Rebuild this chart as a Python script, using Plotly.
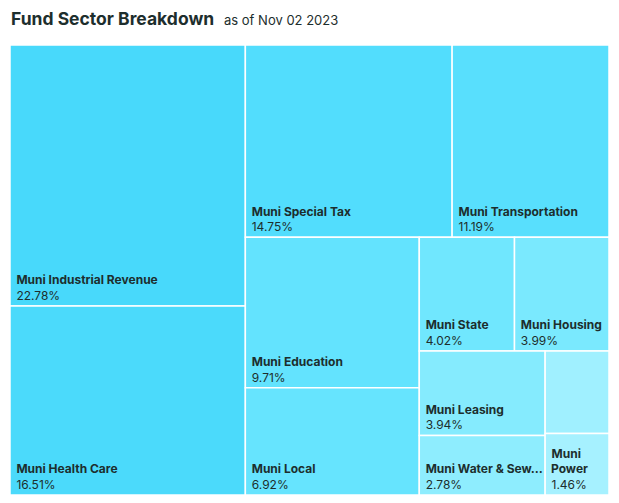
import plotly.graph_objects as go

sectors = ["Muni Industrial Revenue", "Muni Health Care", "Muni Special Tax",
           "Muni Transportation", "Muni Education", "Muni Local", "Muni State",
           "Muni Housing", "Muni Leasing", "Muni Water & Sewer", "Other", "Muni Power"]
weights = [22.78, 16.51, 14.75, 11.19, 9.71, 6.92, 4.02, 3.99, 3.94, 2.78, 1.95, 1.46]
display_names = ["Muni Industrial Revenue", "Muni Health Care", "Muni Special Tax",
                 "Muni Transportation", "Muni Education", "Muni Local", "Muni State",
                 "Muni Housing", "Muni Leasing", "Muni Water & Sew...", "", "Muni<br>&nbsp;Power"]
colors = ["#48d9fb", "#4bdafb", "#52ddfd", "#58dffd", "#63e3fe", "#66e4fe",
          "#70e7fe", "#7ae9fe", "#85ebfe", "#8eedfe", "#a0f0ff", "#a6f1ff"]

templates = ["&nbsp;<b>%{text}</b><br>&nbsp;%{value:.2f}%" if n else "" for n in display_names]

fig = go.Figure(go.Treemap(
    labels=sectors,
    parents=[""] * len(sectors),
    values=weights,
    text=display_names,
    texttemplate=templates,
    textposition="bottom left",
    textfont=dict(family="Inter, Roboto, sans-serif", size=12, color="#1d2e2d"),
    marker=dict(colors=colors, line=dict(color="white", width=1.5), pad=dict(t=0, l=0, r=0, b=0)),
    tiling=dict(packing="squarify", squarifyratio=1.3, pad=0),
    pathbar=dict(visible=False),
    sort=True,
    hoverinfo="skip",
    root=dict(color="white"),
))

fig.update_layout(
    width=619, height=503,
    margin=dict(l=10, r=10, t=45, b=8),
    paper_bgcolor="white",
    uniformtext=dict(minsize=12, mode="show"),
    title=dict(
        text="<b>Fund Sector Breakdown</b>  <span style='font-size:13px'>as of Nov 02 2023</span>",
        x=11 / 619, xanchor="left", y=1 - 19 / 503, yanchor="middle",
        font=dict(family="Inter, Roboto, sans-serif", size=17.5, color="#1d2e2d"),
    ),
)

fig.write_html("out.html", config={"displayModeBar": False},
               post_script="document.body.style.margin='0';")
